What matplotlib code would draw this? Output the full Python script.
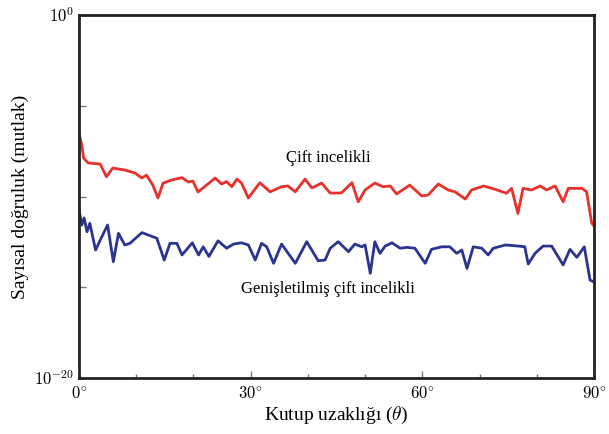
import matplotlib
matplotlib.use("Agg")
import matplotlib.pyplot as plt
import numpy as np
from matplotlib.ticker import FixedLocator, NullLocator

plt.rcParams['mathtext.fontset'] = 'cm'
plt.rcParams['font.family'] = ['Liberation Serif', 'DejaVu Serif']

# polar distance (degrees) and log10 of absolute accuracy
deg_double = [0, 0.5, 0.8, 1.6, 3.7, 4.8, 5.9, 8.0, 9.8, 11.0, 11.8, 12.9, 13.8, 14.7,
              16.2, 18.0, 19.1, 19.9, 20.8, 22.3, 23.8, 24.9, 25.8, 26.7, 27.6, 28.4,
              29.6, 31.6, 33.4, 35.4, 36.5, 37.8, 39.5, 40.7, 42.4, 43.9, 45.3, 45.9,
              47.7, 48.8, 50.0, 51.7, 53.1, 54.4, 55.5, 57.8, 59.9, 61.0, 62.8, 64.5,
              65.7, 67.5, 68.6, 70.7, 72.7, 74.7, 75.6, 76.7, 77.6, 79.1, 80.6, 81.7,
              83.2, 84.6, 85.5, 87.9, 88.7, 89.6, 90.0]
log_double = [-6.52, -7.16, -7.88, -8.15, -8.21, -8.91, -8.43, -8.54, -8.71, -8.98,
              -8.82, -9.37, -10.08, -9.26, -9.09, -8.96, -9.20, -9.15, -9.75, -9.37,
              -8.98, -9.31, -9.18, -9.46, -9.04, -9.26, -10.08, -9.24, -9.74, -9.46,
              -9.42, -9.74, -9.04, -9.53, -9.26, -9.81, -9.81, -9.79, -9.24, -10.29,
              -9.64, -9.26, -9.46, -9.42, -9.86, -9.37, -9.97, -9.92, -9.31, -9.64,
              -9.74, -10.14, -9.64, -9.42, -9.60, -9.82, -9.55, -10.93, -9.55, -9.64,
              -9.42, -9.64, -9.42, -10.29, -9.55, -9.55, -9.74, -11.46, -11.63]

deg_ext = [0, 0.5, 0.9, 1.4, 1.9, 2.9, 4.0, 5.0, 6.0, 6.9, 8.0, 8.9, 11.0, 13.6,
           14.9, 15.9, 17.1, 18.0, 19.8, 20.9, 21.7, 22.7, 24.3, 25.8, 27.0, 28.4,
           29.6, 30.8, 31.9, 32.8, 34.0, 35.4, 37.8, 39.8, 41.8, 43.0, 43.9, 45.3,
           47.1, 48.2, 49.4, 50.0, 50.9, 51.7, 52.6, 53.5, 54.7, 56.1, 57.3, 58.7,
           60.5, 61.6, 63.4, 64.8, 66.0, 66.9, 67.8, 68.9, 70.4, 71.5, 72.4, 74.5,
           76.8, 77.9, 78.5, 79.7, 81.1, 82.6, 84.6, 85.8, 87.0, 88.3, 88.6, 89.3, 90.0]
log_ext = [-10.74, -11.57, -11.18, -11.94, -11.48, -12.95, -12.21, -11.57, -13.59,
           -12.03, -12.67, -12.58, -11.99, -12.30, -13.50, -12.58, -12.58, -13.22,
           -12.55, -13.22, -12.77, -13.30, -12.44, -12.85, -12.62, -12.55, -12.67,
           -13.50, -12.58, -12.77, -13.68, -12.62, -13.68, -12.49, -13.54, -13.50,
           -12.85, -12.49, -13.04, -12.62, -12.77, -12.67, -14.23, -12.49, -13.13,
           -12.73, -12.55, -12.85, -12.80, -12.85, -13.68, -12.91, -12.77, -12.77,
           -13.13, -12.95, -13.96, -12.77, -12.85, -13.22, -12.85, -12.67, -12.73,
           -12.77, -13.72, -13.13, -12.73, -12.73, -13.77, -12.91, -13.35, -12.77,
           -13.32, -14.60, -14.71]

x_ticks = [0, 30, 60, 90]
x_labels = [r'$0^{\circ}$', r'$30^{\circ}$', r'$60^{\circ}$', r'$90^{\circ}$']

fig = plt.figure(figsize=(6.09, 4.34), dpi=100)
ax = fig.add_axes([0.1297, 0.129, 0.8457, 0.8364])

ax.plot(deg_double, 10.0 ** np.array(log_double), color='#e8312b', lw=2.0)
ax.plot(deg_ext, 10.0 ** np.array(log_ext), color='#2b3490', lw=2.0)

ax.set_yscale('log')
ax.set_xlim(0, 90)
ax.set_ylim(1e-20, 1e0)

ax.set_xticks(x_ticks)
ax.set_xticklabels(x_labels, fontsize=12)
ax.xaxis.set_minor_locator(FixedLocator([10, 20, 40, 50, 70, 80]))
ax.set_yticks([1e-20, 1e-15, 1e-10, 1e-5, 1e0])
ax.set_yticklabels([r'$10^{-20}$', '', '', '', r'$10^{0}$'], fontsize=12)
ax.yaxis.set_minor_locator(NullLocator())

ax.tick_params(axis='both', which='major', direction='in', length=5, width=1,
               color='#777777', top=False, right=False)
ax.tick_params(axis='x', which='minor', direction='in', length=3, width=1,
               color='#777777', top=False)
ax.tick_params(axis='x', which='major', pad=6)
for sp in ax.spines.values():
    sp.set_linewidth(2.0)
    sp.set_color('#222222')

ax.text(43.5, 10 ** -7.9, 'Çift incelikli', ha='center', va='center', fontsize=12)
ax.text(43.5, 10 ** -15.1, 'Genişletilmiş çift incelikli', ha='center', va='center',
        fontsize=12)

ax.set_xlabel(r'Kutup uzaklığı ($\theta$)', fontsize=14, labelpad=2)
ax.set_ylabel('Sayısal doğruluk (mutlak)', fontsize=14)
ax.yaxis.set_label_coords(-0.098, 0.5)

fig.savefig('out.png', dpi=100)
